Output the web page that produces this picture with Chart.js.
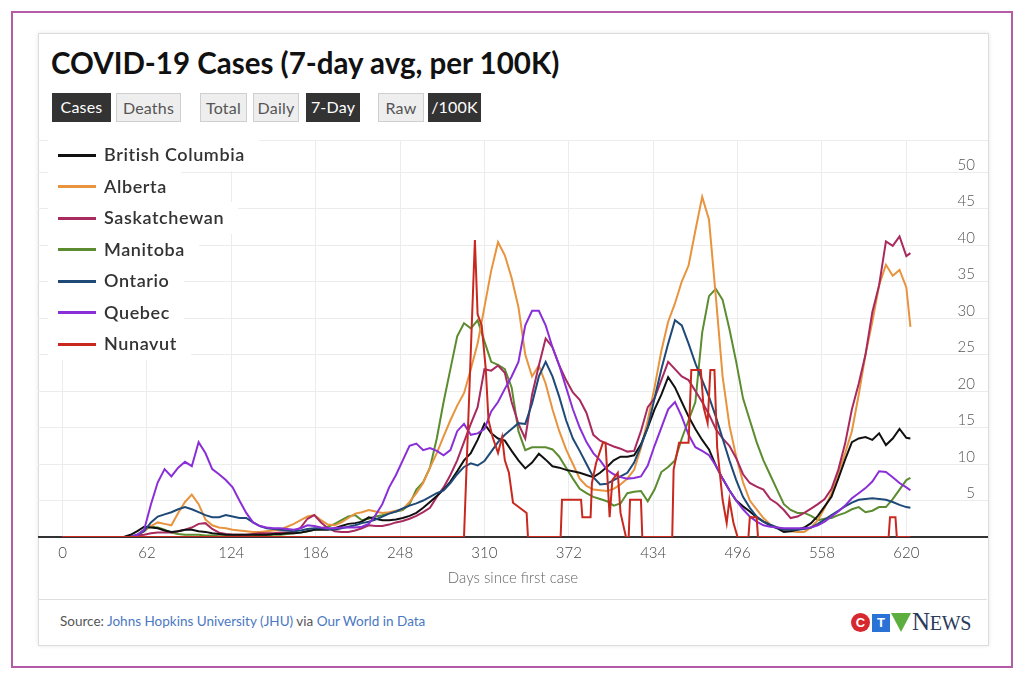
<!DOCTYPE html>
<html><head><meta charset="utf-8">
<script src="https://cdn.jsdelivr.net/npm/chart.js@4"></script>
<style>
html,body{margin:0;padding:0;background:#fff;}
body{width:1024px;height:681px;position:relative;overflow:hidden;font-family:Lato,"Open Sans",sans-serif;}
#frame{position:absolute;left:11px;top:11px;width:1002px;height:657px;border:2px solid #b35ba6;box-sizing:border-box;}
#card{position:absolute;left:38px;top:33px;width:951px;height:613px;border:1px solid #dcdcdc;box-sizing:border-box;box-shadow:0 0 4px rgba(0,0,0,0.10);}
#title{position:absolute;left:51px;top:45px;font-size:29.5px;font-weight:700;color:#111;white-space:nowrap;}
.btn{position:absolute;top:93px;height:29px;line-height:28px;font-size:16px;letter-spacing:0.2px;text-align:center;box-sizing:border-box;}
.on{background:#333;color:#fff;}
.off{background:#eee;color:#555;border:1px solid #cfcfcf;}
#chartWrap{position:absolute;left:38px;top:130px;width:950px;height:470px;overflow:hidden;}
#legend{position:absolute;left:48px;top:139px;}
.li{height:31.5px;line-height:31.5px;background:#fff;width:fit-content;padding:0 14px 0 10px;font-size:18px;letter-spacing:0.6px;font-weight:600;color:#333;white-space:nowrap;}
.sw{display:inline-block;width:38px;height:3px;vertical-align:middle;margin-right:8px;position:relative;top:-1px;}
#sep{position:absolute;left:39px;top:599px;width:948px;height:1px;background:#dedede;}
#source{position:absolute;left:60px;top:613px;font-size:13.5px;color:#555;white-space:nowrap;}
#source span.l{color:#4a78c2;}
#logo{position:absolute;left:851px;top:610px;height:24px;white-space:nowrap;}
#logo span{display:inline-block;vertical-align:middle;}
.lc{width:19px;height:19px;border-radius:50%;background:#d7282f;color:#fff;font:bold 13px/19px Arial,"Liberation Sans",sans-serif;text-align:center;}
.lt{width:18px;height:18px;background:#2b72d6;color:#fff;font:bold 13px/18px Arial,"Liberation Sans",sans-serif;text-align:center;margin-left:2px;}
.lv{width:20px;height:19px;background:#5cae3e;clip-path:polygon(0 0,100% 0,50% 100%);margin-left:1px;}
.ln{font-family:"Liberation Serif","DejaVu Serif",serif;color:#2b3a5c;font-size:25px;line-height:24px;margin-left:1px;letter-spacing:-0.3px;}
.ln small{font-size:20px;}
</style>
</head><body>
<div id="frame"></div>
<div id="card"></div>
<div id="title">COVID-19 Cases (7-day avg, per 100K)</div>
<div class="btn on" style="left:52px;width:59px;">Cases</div>
<div class="btn off" style="left:116px;width:65px;">Deaths</div>
<div class="btn off" style="left:200px;width:47px;">Total</div>
<div class="btn off" style="left:253px;width:46px;">Daily</div>
<div class="btn on" style="left:306px;width:54px;">7-Day</div>
<div class="btn off" style="left:378px;width:46px;">Raw</div>
<div class="btn on" style="left:428px;width:53px;">/100K</div>
<div id="chartWrap"><canvas id="c" width="950" height="461" style="width:950px;height:461px;"></canvas></div>
<div id="legend"></div>
<div id="sep"></div>
<div id="source">Source: <span class="l">Johns Hopkins University (JHU)</span> via <span class="l">Our World in Data</span></div>
<div id="logo"><span class="lc">C</span><span class="lt">T</span><span class="lv"></span><span class="ln">N<small>EWS</small></span></div>
<script>
const xTicks = [0,62,124,186,248,310,372,434,496,558,620];
const yTicks = [0,5,10,15,20,25,30,35,40,45,50];
const yMax = 54.4;

const days = [0,5,10,15,20,25,30,35,40,45,50,55,60,65,70,75,80,85,90,95,100,105,110,115,120,125,130,135,140,145,150,155,160,165,170,175,180,185,190,195,200,205,210,215,220,225,230,235,240,245,250,255,260,265,270,275,280,285,290,295,300,305,310,315,320,325,330,335,340,345,350,355,360,365,370,375,380,385,390,395,400,405,410,415,420,425,430,435,440,445,450,455,460,465,470,475,480,485,490,495,500,505,510,515,520,525,530,535,540,545,550,555,560,565,570,575,580,585,590,595,600,605,610,615,620,623];

const britishColumbia = [0,0,0,0,0,0,0,0,0,0,0.3,
0.8,1.4,1.3,1.2,0.9,0.7,0.8,1.0,1.0,0.8,
0.7,0.5,0.4,0.3,0.3,0.3,0.3,0.3,0.3,0.3,
0.4,0.4,0.5,0.5,0.6,0.8,1.0,1.0,1.0,1.2,
1.5,1.8,1.9,2.1,2.7,2.5,2.3,2.3,2.4,2.6,
2.9,3.3,4.0,4.8,5.6,6.5,7.6,9.0,10.5,11.5,
13.3,15.5,14.2,13.5,13.2,11.8,10.5,9.4,10.2,11.4,
10.6,9.7,9.5,9.2,9.0,8.8,8.5,8.2,8.8,9.6,
10.5,11,11,11.2,12.7,15,17.5,19.5,21.9,20.5,
18.5,16.5,14.8,13.3,12,9.8,8,6.4,5.0,4.2,
3.5,2.7,2.1,1.6,1.2,0.7,0.8,1.0,1.3,1.9,
2.9,4.2,5.5,8.0,10.6,13,13.5,13.7,13.3,14.2,
12.6,13.5,14.8,13.6,13.5];

const alberta = [0,0,0,0,0,0,0,0,0,0,0,
0.2,0.8,1.5,2.0,1.8,1.6,3.3,4.8,5.8,4.5,
2.4,1.6,1.3,1.2,1.0,0.9,0.8,0.7,0.7,0.8,
0.9,1.0,1.4,1.8,2.3,2.8,3.0,2.3,1.7,1.6,
2.0,2.6,3.2,3.4,3.7,3.5,3.3,3.4,3.6,3.8,
4.8,6.0,7.4,9.5,11.5,13.8,16,18,19.7,23,
26.5,31.5,36.5,40.4,38.6,35.5,31.5,25,22,23.5,
21,17.5,14.5,12,10,8.0,7.0,6.5,6.4,6.3,
6.6,7.2,8.0,9.2,12.2,16,20.5,25.5,29.5,32,
35,37.2,42,46.6,43.5,33,22,15.3,11,7.5,
5.0,3.8,2.6,1.7,1.3,1.0,0.8,0.7,0.7,1.3,
2.3,4.0,6.0,8.8,11.5,14.5,19.5,25,29.5,34.5,
37.3,35.8,36.6,34.2,28.8];

const saskatchewan = [0,0,0,0,0,0,0,0,0,0,0,
0.2,0.3,0.5,0.6,0.6,0.6,0.8,1.0,1.3,1.8,
1.9,1.1,0.6,0.4,0.3,0.3,0.3,0.4,0.5,0.5,
0.5,0.6,0.6,0.7,1.3,2.5,3.0,2.0,1.2,0.8,
0.7,0.7,0.9,1.2,1.6,1.5,1.5,1.7,2.0,2.2,
2.5,2.9,3.4,4.0,5.5,6.8,8.5,10.5,13,15.5,
17.8,23,22.8,23.5,22.5,18.5,15.5,13.5,19.5,23.5,
27.2,26,23.5,21.5,19.8,18.8,17,14,13.2,12.8,
12.4,12.1,11.7,11.8,14.5,17.8,19,21.5,24,23,
22,21.5,20,18.5,16.8,14.8,13.5,12.5,10.8,8.6,
7.4,6.9,6.5,5.2,4.6,3.7,2.6,2.8,3.3,3.9,
4.5,5.2,6.6,9.2,12.8,17.5,21,25,30.8,34.5,
40.5,39.9,41.2,38.5,38.9];

const manitoba = [0,0,0,0,0,0,0,0,0,0,0,
0.3,1.0,1.4,1.3,1.0,0.6,0.4,0.3,0.3,0.3,
0.2,0.2,0.1,0.1,0.1,0.1,0.1,0.1,0.2,0.2,
0.3,0.3,0.4,0.5,0.6,0.8,1.0,1.2,1.4,1.8,
2.3,2.8,3.0,2.3,2.5,2.8,3.0,3.3,3.5,3.7,
4.5,6.5,7.5,9.5,13.5,18.5,23,27.5,29.3,28.6,
29.7,26.8,24,23.6,23,20.5,14.5,11.9,12.3,12.3,
12.3,12,11,9.5,8,6.6,6.0,5.5,5.2,4.9,
4.3,4.6,6.0,6.2,6.3,4.9,6.5,8.9,9.6,10.5,
13.5,16,18.5,28,33,34,32.5,28.5,24,19,
16,13,10.5,8.5,6.5,4.5,3.7,3.3,3.3,2.9,
2.3,2.5,2.6,3.0,3.3,3.8,4.1,3.4,3.6,4.1,
4.1,5.2,6.5,7.8,8.1];

const ontario = [0,0,0,0,0,0,0,0,0,0,0,
0.3,0.8,2.0,2.8,3.1,3.4,3.8,4.1,3.8,3.4,
3.0,2.7,2.7,3.0,2.8,2.6,2.6,2.0,1.5,1.2,
1.1,1.0,0.9,0.8,0.9,1.1,1.2,1.2,1.1,1.0,
1.2,1.4,1.6,1.9,2.1,2.4,2.8,3.2,3.5,3.9,
4.3,4.6,5.0,5.5,6.0,6.4,7.4,8.6,9.6,10.1,
9.8,10.4,11.7,13,14,14.8,15.6,15.5,18.3,22,
24,22,19.2,16,13.5,11.8,10,8.2,7.2,7.3,
7.8,8.3,8.8,10.2,12.5,15,19,23,26.5,29.7,
29,26.5,23.8,21.5,19.2,16.5,13.5,10.5,7.8,5.5,
4.0,2.8,2.1,1.7,1.3,1.0,1.0,1.0,1.1,1.3,
1.8,2.4,3.0,3.6,4.2,4.7,5.1,5.2,5.3,5.2,
5.1,4.8,4.4,4.1,4.0];

const quebec = [0,0,0,0,0,0,0,0,0,0,0,
0.3,1.0,4.5,7.5,9.3,8.3,9.5,10.3,9.7,13,
11.5,9.3,8.6,7.8,6.8,5.0,3.3,2.0,1.5,1.3,
1.2,1.2,1.1,1.0,1.2,1.6,1.5,1.3,1.2,1.2,
1.3,1.3,1.3,1.4,1.8,3.0,4.5,6.8,8.5,10.5,
12.5,12.8,11.9,12.2,11.8,11.2,11.9,14.5,15.5,14.0,
14.2,14.8,17.2,18.5,20.3,22,24,29,31,31,
29,26,23.5,20.5,17.5,15,13,11.5,10.5,9.2,
8.6,8.2,8.0,8.1,8.3,9.8,12.5,15,17.5,18.5,
16.5,14,12.3,11.8,11.2,9.8,8,6.4,5,3.8,
2.8,2.1,1.6,1.4,1.3,1.2,1.2,1.2,1.2,1.3,
1.6,2.1,2.8,3.5,4.3,5.3,6.0,6.7,7.6,9.0,
8.9,8.2,7.4,6.8,6.4];

const nunavutDays = [0,294,295,303,305,308,311,313,316,320,323,325,328,331,341,342,366,367,381,382,388,389,392,397,399,402,404,408,410,414,416,417,425,426,448,449,453,460,462,469,471,474,476,479,481,485,488,490,493,496,504,505,510,511,607,608,612,613,623];
const nunavut = [0,0,0,40.7,30.5,29,23,16,13.7,11.5,13.7,10.5,8.8,4.7,3.3,0,0,5.1,5.1,2.7,2.7,7.4,10.1,12.9,12.9,2.7,7.8,8.8,3.3,0,0,5.1,5.1,0,0,9.2,12.9,12.9,22.9,22.9,17.8,15.6,22.9,22.9,12.3,5.1,1.9,5.1,1.9,0,0,2.7,2.7,0,0,2.7,2.7,0,0];

const seriesNames = ['British Columbia','Alberta','Saskatchewan','Manitoba','Ontario','Quebec','Nunavut'];
const seriesColors = ['#111111','#e8933d','#a82a5e','#5b8c2f','#1f4a78','#8a2fd8','#c8281e'];

function pts(xs, ys){ return xs.map((d,i)=>({x:d,y:ys[i]})); }
const seriesData = [
  pts(days,britishColumbia), pts(days,alberta), pts(days,saskatchewan),
  pts(days,manitoba), pts(days,ontario), pts(days,quebec), pts(nunavutDays,nunavut)
];
const drawOrder = [3,5,4,6,2,1,0];

const datasets = seriesNames.map((n,i)=>({
  label:n, data:seriesData[i], borderColor:seriesColors[i], backgroundColor:seriesColors[i],
  borderWidth:2, pointRadius:0, tension:0, fill:false, order:drawOrder[i]
}));

const lg = document.getElementById('legend');
seriesNames.forEach((n,i)=>{
  const d = document.createElement('div'); d.className='li';
  const s = document.createElement('span'); s.className='sw'; s.style.background = seriesColors[i];
  d.appendChild(s); d.appendChild(document.createTextNode(n)); lg.appendChild(d);
});

// y labels drawn inside the plot, right-aligned, slightly above each grid line
const yLabelPlugin = {
  id:'yLabels',
  afterDraw(chart){
    const {ctx, chartArea, scales} = chart;
    const ys = scales.y;
    ctx.save();
    ctx.font = '300 15px Lato';
    ctx.fillStyle = '#555';
    ctx.textAlign = 'right';
    ctx.textBaseline = 'middle';
    yTicks.forEach(v=>{
      if (v === 0) return;
      ctx.fillText(String(v), chartArea.right - 13, ys.getPixelForValue(v) - 7);
    });
    ctx.restore();
  }
};

new Chart(document.getElementById('c'), {
  type:'line',
  data:{datasets},
  plugins:[yLabelPlugin],
  options:{
    responsive:false, animation:false, maintainAspectRatio:false,
    parsing:false, normalized:true,
    layout:{padding:{top:10,left:0,right:0,bottom:0}},
    plugins:{legend:{display:false}, tooltip:{enabled:false}},
    scales:{
      x:{type:'linear', min:-18, max:680,
         afterBuildTicks:s=>{ s.ticks = xTicks.map(v=>({value:v})); },
         grid:{color:'#ececec', drawTicks:false},
         border:{display:true, color:'#333', width:2},
         ticks:{padding:7, color:'#444', font:{family:'Lato', size:15, weight:'300'}, callback:v=>String(v)},
         title:{display:true, text:'Days since first case', color:'#666', font:{family:'Lato', size:15, weight:'300'}, padding:{top:0,bottom:4}}
      },
      y:{position:'right', min:0, max:yMax,
         afterBuildTicks:s=>{ s.ticks = yTicks.concat([yMax]).map(v=>({value:v})); },
         grid:{color:'#ececec', drawTicks:false},
         border:{display:false},
         ticks:{display:false}
      }
    }
  }
});
</script>
</body></html>
